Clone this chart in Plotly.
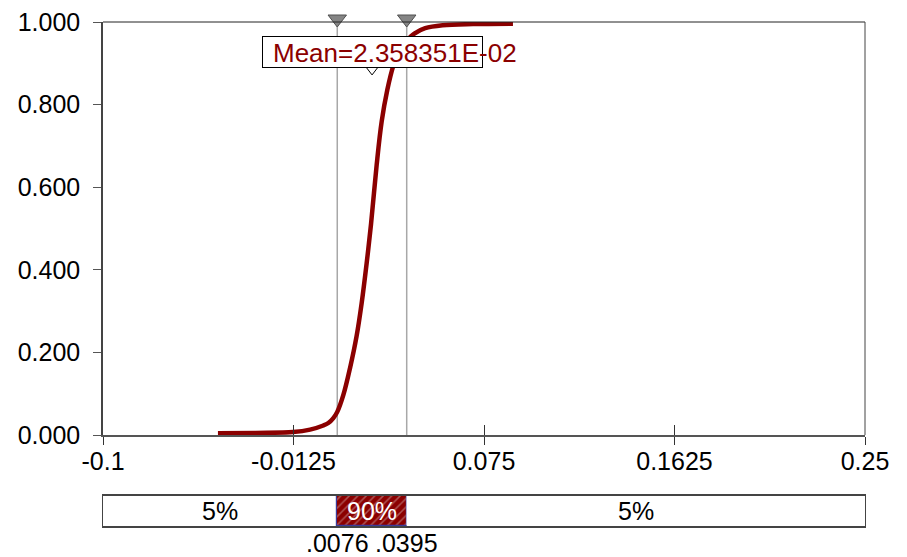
import plotly.graph_objects as go

# Cumulative distribution (ascending) of the simulated output
cdf_x = [-0.0472, -0.0300, -0.0127, -0.0049, 0.0012, 0.0035, 0.0058, 0.0076,
         0.0104, 0.0135, 0.0165, 0.0188, 0.0211, 0.0231, 0.0257, 0.0280,
         0.0306, 0.0334, 0.0364, 0.0395, 0.0430, 0.0480, 0.0560, 0.0700, 0.0883]
cdf_y = [0.004, 0.005, 0.007, 0.013, 0.023, 0.029, 0.041, 0.056,
         0.097, 0.163, 0.240, 0.319, 0.416, 0.510, 0.654, 0.759,
         0.836, 0.895, 0.935, 0.955, 0.972, 0.985, 0.992, 0.995, 0.996]

mean_value = 0.02358351
delimiters = [0.0076, 0.0395]
delimiter_labels = [".0076", ".0395"]
x_range = [-0.1, 0.25]
x_tickvals = [-0.1, -0.0125, 0.075, 0.1625, 0.25]
x_ticktext = ["-0.1", "-0.0125", "0.075", "0.1625", "0.25"]
y_tickvals = [0.0, 0.2, 0.4, 0.6, 0.8, 1.0]
band_labels = ["5%", "90%", "5%"]

DARK_RED = "#8b0000"
FONT = "Liberation Sans, Arial, sans-serif"
W, H = 907, 557
CLEAR = "rgba(0,0,0,0)"

fig = go.Figure()

# delimiter lines
for d in delimiters:
    fig.add_trace(go.Scatter(x=[d, d], y=[0, 1], mode="lines",
                             line=dict(color="#a8a8a8", width=1.5),
                             hoverinfo="skip", showlegend=False))

# the cumulative curve
fig.add_trace(go.Scatter(x=cdf_x, y=cdf_y, mode="lines",
                         line=dict(color=DARK_RED, width=4.5, shape="spline", smoothing=1.0),
                         showlegend=False))

# delimiter handles in a thin strip above the plot
fig.add_trace(go.Scatter(x=delimiters, y=[0.5] * len(delimiters), mode="markers",
                         xaxis="x", yaxis="y4",
                         marker=dict(symbol="triangle-down", size=16, color="#858585",
                                     line=dict(color="#505050", width=1)),
                         cliponaxis=False, hoverinfo="skip", showlegend=False))

# bottom band: 5% / 90% / 5%
bounds = [x_range[0]] + delimiters + [x_range[1]]
for i, lab in enumerate(band_labels):
    lo, hi = bounds[i], bounds[i + 1]
    middle = (i == 1)
    fig.add_trace(go.Bar(
        x=[hi - lo], base=[lo], y=[0.5], orientation="h", width=1,
        xaxis="x3", yaxis="y3",
        marker=dict(
            color=DARK_RED if middle else "white",
            line=dict(color="#3a3a9a" if middle else CLEAR, width=1.2),
            pattern=dict(shape="/" if middle else "", fgcolor="#d0a8a8",
                         size=6, solidity=0.25, fillmode="overlay"),
        ),
        showlegend=False, hoverinfo="skip"))
    fig.add_annotation(x=(lo + hi) / 2, y=0.5, xref="x3", yref="y3",
                       text=lab, showarrow=False,
                       font=dict(family=FONT, size=25, color="white" if middle else "black"))

for d, lab in zip(delimiters, delimiter_labels):
    fig.add_annotation(x=d, y=0, xref="x3", yref="y3", yanchor="top", yshift=-2,
                       text=lab, showarrow=False, bgcolor="white", borderpad=0,
                       font=dict(family=FONT, size=25, color="black"))

# mean marker and label
fig.add_trace(go.Scatter(x=[mean_value], y=[0.884], mode="markers",
                         marker=dict(symbol="triangle-down", size=10, color="white",
                                     line=dict(color="black", width=1)),
                         cliponaxis=False, hoverinfo="skip", showlegend=False))
fig.add_annotation(x=mean_value, y=0.927, xref="x", yref="y", text=" ",
                   width=219, height=30, bgcolor="white", bordercolor="black",
                   borderwidth=1, borderpad=0, showarrow=False)
fig.add_annotation(x=mean_value, y=0.924, xref="x", yref="y", xanchor="left", xshift=-101,
                   text="Mean=%.6E" % mean_value, showarrow=False,
                   font=dict(family=FONT, size=26, color=DARK_RED))

px_l, px_r = 103, 865
main_top, main_bot = 22, 435
band_top, band_bot = 496, 526
xdom = [px_l / W, px_r / W]

axis_font = dict(family=FONT, size=25, color="black")
fig.update_layout(
    width=W, height=H,
    margin=dict(l=0, r=0, t=0, b=0, autoexpand=False),
    paper_bgcolor="white", plot_bgcolor=CLEAR,
    bargap=0, barmode="overlay",
    xaxis=dict(domain=xdom, range=x_range, tickvals=x_tickvals, ticktext=x_ticktext,
               ticks="outside", ticklen=8, tickcolor="#333", tickwidth=1,
               showline=True, linecolor="#555", linewidth=2, mirror=False, automargin=False,
               showgrid=False, zeroline=False, tickfont=axis_font, ticklabelstandoff=-5),
    xaxis2=dict(domain=xdom, range=x_range, overlaying="x", anchor="y", automargin=False,
                tickvals=x_tickvals, ticks="inside", ticklen=10, tickcolor="#333",
                showticklabels=False, showgrid=False, zeroline=False, showline=False),
    yaxis=dict(domain=[1 - main_bot / H, 1 - main_top / H], range=[0, 1],
               tickvals=y_tickvals, tickformat=".3f", automargin=False,
               ticks="outside", ticklen=8, tickcolor="#555", tickwidth=1,
               showline=True, linecolor="#444", linewidth=1.5,
               showgrid=False, zeroline=False, tickfont=axis_font, ticklabelstandoff=8),
    xaxis3=dict(domain=xdom, range=x_range, anchor="y3", visible=True, automargin=False,
                showticklabels=False, ticks="", showgrid=False, zeroline=False,
                showline=True, linecolor="#444", linewidth=1.5, mirror=True),
    yaxis3=dict(domain=[1 - band_bot / H, 1 - band_top / H], range=[0, 1], anchor="x3",
                showticklabels=False, ticks="", showgrid=False, zeroline=False, automargin=False,
                showline=True, linecolor="#444", linewidth=1, mirror=True),
    yaxis4=dict(domain=[1 - 27 / H, 1 - 11 / H], range=[0, 1], anchor="x", visible=False,
                automargin=False, showgrid=False, zeroline=False),
    shapes=[
        # frame: top and right edges of the plot area
        dict(type="line", xref="paper", yref="paper", x0=xdom[0], x1=xdom[1],
             y0=1 - main_top / H, y1=1 - main_top / H, line=dict(color="#222", width=1)),
        dict(type="line", xref="paper", yref="paper", x0=xdom[1], x1=xdom[1],
             y0=1 - main_bot / H, y1=1 - main_top / H, line=dict(color="#444", width=1)),
    ],
)

# hidden helper trace so the inside-tick axis is drawn
fig.add_trace(go.Scatter(x=[x_range[0]], y=[0], xaxis="x2", yaxis="y", mode="markers",
                         marker=dict(opacity=0), hoverinfo="skip", showlegend=False))

fig.write_html("out.html")
